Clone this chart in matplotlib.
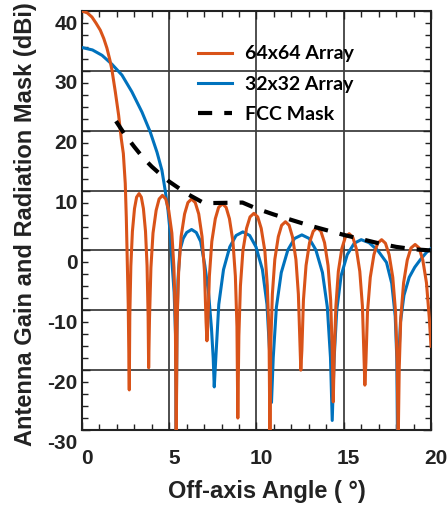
import matplotlib
matplotlib.use("Agg")
import matplotlib.pyplot as plt
import matplotlib.transforms as mtransforms
from matplotlib.ticker import MultipleLocator

# 64x64 array gain (dBi) vs off-axis angle (deg)
red_x = [0, 0.3, 0.57, 0.8, 1.05, 1.25, 1.43, 1.6, 1.72, 1.91, 2.10, 2.25, 2.37, 2.48, 2.54, 2.58, 2.65, 2.71,
         2.74, 2.80, 2.89, 3.01, 3.13, 3.27, 3.40, 3.52, 3.64, 3.73, 3.79, 3.82,
         3.87, 3.95, 4.07, 4.25, 4.42, 4.61, 4.80, 4.97, 5.15, 5.27, 5.35, 5.40,
         5.45, 5.54, 5.68, 5.88, 6.07, 6.28, 6.49, 6.69, 6.88, 7.02, 7.11, 7.16,
         7.21, 7.30, 7.44, 7.64, 7.83, 8.05, 8.26, 8.45, 8.65, 8.79, 8.88, 8.93,
         8.99, 9.08, 9.22, 9.43, 9.63, 9.85, 10.07, 10.27, 10.48, 10.62, 10.72, 10.77,
         10.82, 10.91, 11.05, 11.25, 11.44, 11.66, 11.87, 12.06, 12.26, 12.40, 12.49, 12.54,
         12.60, 12.69, 12.84, 13.04, 13.25, 13.47, 13.69, 13.90, 14.10, 14.25, 14.34, 14.40,
         14.45, 14.55, 14.69, 14.89, 15.09, 15.31, 15.52, 15.72, 15.92, 16.07, 16.16, 16.21,
         16.27, 16.36, 16.52, 16.73, 16.94, 17.17, 17.39, 17.60, 17.81, 17.97, 18.06, 18.12,
         18.18, 18.27, 18.43, 18.64, 18.85, 19.09, 19.32, 19.53, 19.74, 19.90, 20.0]
red_y = [40.0, 39.7, 39.0, 38.0, 36.8, 35.4, 33.8, 31.8, 30.1, 26.5, 22.6, 18.7, 16.2, 11.2, 5.5, 0.0, -9.0, -23.3,
         -11.0, -2.6, 3.2, 7.0, 8.9, 9.5, 8.9, 7.0, 3.2, -2.6, -11.0, -19.6,
         -11.3, -2.9, 2.9, 6.7, 8.6, 9.2, 8.6, 6.7, 2.9, -2.9, -11.3, -32,
         -11.9, -3.5, 2.3, 6.1, 8.0, 8.6, 8.0, 6.1, 2.3, -3.5, -11.9, -15.1,
         -12.7, -4.3, 1.5, 5.3, 7.2, 7.8, 7.2, 5.3, 1.5, -4.3, -12.7, -28.0,
         -14.3, -5.9, -0.1, 3.7, 5.6, 6.2, 5.6, 3.7, -0.1, -5.9, -14.3, -32,
         -15.7, -7.3, -1.5, 2.3, 4.2, 4.8, 4.2, 2.3, -1.5, -7.3, -15.7, -20.0,
         -16.7, -8.3, -2.5, 1.3, 3.2, 3.8, 3.2, 1.3, -2.5, -8.3, -16.7, -25.3,
         -17.7, -9.3, -3.5, 0.3, 2.2, 2.8, 2.2, 0.3, -3.5, -9.3, -17.7, -22.5,
         -18.7, -10.3, -4.5, -0.7, 1.2, 1.8, 1.2, -0.7, -4.5, -10.3, -18.7, -32,
         -19.6, -11.2, -5.4, -1.6, 0.4, 1.0, 0.4, -1.6, -5.4, -11.2, -16]

# 32x32 array
blue_x = [0, 0.6, 1.15, 1.72, 2.29, 2.86, 3.44, 3.91, 4.30, 4.58, 4.77, 4.93, 5.06, 5.15, 5.28, 5.36, 5.40,
          5.44, 5.50, 5.61, 5.80, 6.00, 6.28, 6.55, 6.80, 7.04, 7.25, 7.42, 7.52, 7.58,
          7.68, 7.84, 8.11, 8.47, 8.83, 9.22, 9.61, 9.97, 10.34, 10.60, 10.76, 10.86,
          10.96, 11.14, 11.42, 11.80, 12.18, 12.60, 13.02, 13.40, 13.78, 14.06, 14.24, 14.34,
          14.45, 14.60, 14.85, 15.20, 15.60, 16.00, 16.45, 16.95, 17.45, 17.75, 17.95, 18.04, 18.08,
          18.12, 18.25, 18.45, 18.75, 19.07, 19.40, 19.75, 20.0]
blue_y = [33.9, 33.5, 32.6, 31.1, 29.3, 26.5, 23.1, 19.8, 16.4, 13.4, 10.0, 6.7, 2.8, -1.7, -7.0, -14.0, -30,
          -14, -5, 0.0, 2.0, 3.0, 3.5, 3.0, 1.5, -2.5, -7, -13, -18, -22.8,
          -17.4, -9.0, -3.2, 0.6, 2.5, 3.1, 2.5, 0.6, -3.2, -9.0, -17.4, -25.4,
          -17.9, -9.5, -3.7, 0.1, 2.0, 2.6, 2.0, 0.1, -3.7, -9.5, -17.9, -28.4,
          -18, -10, -4.2, -0.7, 1.2, 1.8, 1.3, 0.0, -2.0, -5.5, -11, -18, -32,
          -20, -12, -7.5, -4.5, -2.8, -1.5, -0.3, 0.3]

# FCC mask
mask_x = [1.95, 2.4, 3.0, 3.5, 4.0, 4.5, 5.0, 5.5, 6.0, 6.5, 7.0, 9.2, 10, 11, 12, 13, 14, 15, 16, 17, 18, 19, 20]
mask_y = [21.6, 19.6, 17.3, 15.5, 14.0, 12.7, 11.5, 10.5, 9.5, 8.7, 7.9, 8.0, 7.0, 6.0, 5.1, 4.2, 3.4, 2.6, 1.9,
          1.2, 0.6, 0.2, 0.0]

xticks = [0, 5, 10, 15, 20]
yticks = [-30, -20, -10, 0, 10, 20, 30, 40]

fig = plt.figure(figsize=(4.47, 5.08), dpi=100)
ax = fig.add_axes([0.1834, 0.1535, 0.7808, 0.8248])

l2, = ax.plot(blue_x, blue_y, color="#0072BD", lw=2.2, zorder=3, label="32x32 Array")
l1, = ax.plot(red_x, red_y, color="#D95319", lw=2.2, zorder=4, label="64x64 Array")
l3, = ax.plot(mask_x, mask_y, color="black", lw=3, dashes=(3.4, 2.9), zorder=5, label="FCC Mask")

ax.set_xlim(0, 20)
ax.set_ylim(-30, 40)
ax.set_xticks(xticks)
ax.set_yticks(yticks)
ax.xaxis.set_minor_locator(MultipleLocator(1))
ax.yaxis.set_minor_locator(MultipleLocator(2))
ax.tick_params(which="both", direction="in", top=True, right=True, width=1, color="#222222")
ax.tick_params(which="major", length=6)
ax.tick_params(which="minor", length=4)
ax.tick_params(axis="x", pad=14)
ax.tick_params(axis="y", pad=3)
ax.grid(True, which="major", color="#404040", lw=1.3)
ax.set_axisbelow(True)
for s in ax.spines.values():
    s.set_linewidth(1.5)
    s.set_color("#222222")

tick_font = dict(family="Liberation Sans", weight="bold", size=15)
ax.set_xticklabels([str(t) for t in xticks], fontdict=tick_font, color="#222222")
ax.set_yticklabels([str(t) for t in yticks], fontdict=tick_font, color="#222222")
# labels in the original sit a little off the grid lines
dx = mtransforms.ScaledTranslation(5 / 100, 0, fig.dpi_scale_trans)
dy = mtransforms.ScaledTranslation(0, -11 / 100, fig.dpi_scale_trans)
for lab in ax.get_xticklabels():
    lab.set_transform(lab.get_transform() + dx)
for lab in ax.get_yticklabels():
    lab.set_transform(lab.get_transform() + dy)

label_font = dict(family="Liberation Sans", weight="bold", size=17)
ax.set_xlabel("Off-axis Angle ( °)", fontdict=label_font, color="#222222")
ax.set_ylabel("Antenna Gain and Radiation Mask (dBi)", fontdict=label_font, color="#222222")
ax.xaxis.set_label_coords(0.529, -0.119)
ax.yaxis.set_label_coords(-0.129, 0.492)

ax.legend(handles=[l1, l2, l3], loc="upper left", bbox_to_anchor=(0.332, 0.918), frameon=False,
          prop=dict(family="Lato", weight="bold", size=14), handlelength=1.75, handletextpad=0.65,
          labelspacing=0.69, borderpad=0, borderaxespad=0)

fig.savefig("out.png", dpi=100)
